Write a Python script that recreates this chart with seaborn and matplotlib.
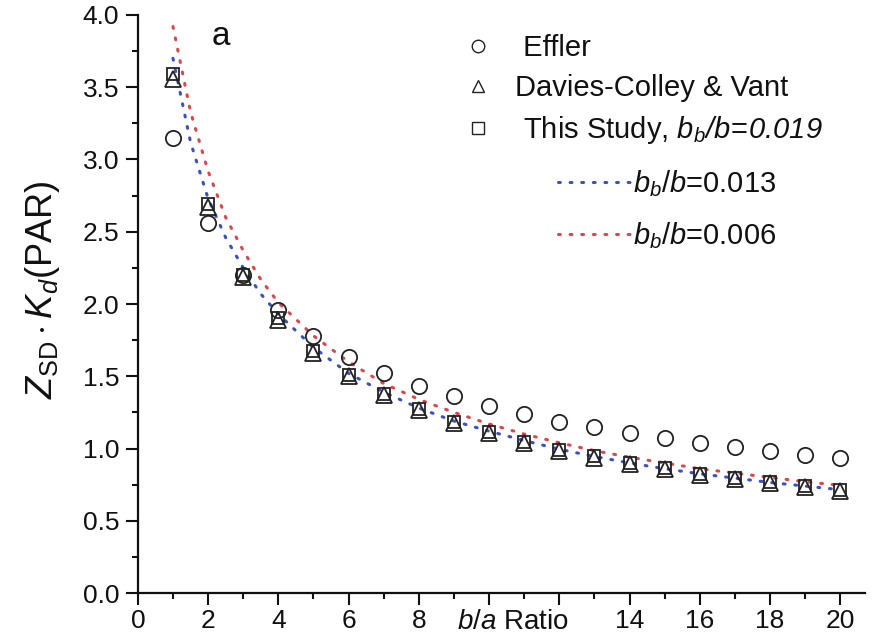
import matplotlib
matplotlib.use("Agg")
import matplotlib.pyplot as plt
from matplotlib.lines import Line2D
import seaborn as sns
import pandas as pd
import numpy as np

# ---------------- data ----------------
ratio = [1, 2, 3, 4, 5, 6, 7, 8, 9, 10, 11, 12, 13, 14, 15, 16, 17, 18, 19, 20]
effler = [3.15, 2.56, 2.20, 1.96, 1.78, 1.635, 1.525, 1.43, 1.36, 1.295,
          1.24, 1.185, 1.15, 1.105, 1.07, 1.04, 1.01, 0.985, 0.955, 0.935]
davies = [3.56, 2.67, 2.19, 1.89, 1.66, 1.50, 1.37, 1.265, 1.175, 1.105,
          1.035, 0.983, 0.937, 0.893, 0.856, 0.817, 0.789, 0.759, 0.736, 0.708]
study = [3.59, 2.69, 2.20, 1.90, 1.675, 1.51, 1.38, 1.275, 1.185, 1.115,
         1.045, 0.99, 0.945, 0.90, 0.863, 0.825, 0.795, 0.766, 0.742, 0.715]

curve_x = [1, 1.5, 2, 2.5, 3, 3.5, 4, 5, 6, 7, 8, 9, 10, 11, 12, 13, 14, 15, 16, 17, 18, 19, 20]
curve_013 = [3.70, 3.12, 2.73, 2.46, 2.25, 2.07, 1.93, 1.70, 1.52, 1.39, 1.28, 1.19, 1.12,
             1.055, 0.995, 0.945, 0.90, 0.86, 0.825, 0.795, 0.765, 0.74, 0.715]
curve_006 = [3.92, 3.33, 2.92, 2.60, 2.37, 2.17, 2.01, 1.78, 1.60, 1.45, 1.34, 1.25, 1.17,
             1.10, 1.04, 0.985, 0.94, 0.90, 0.86, 0.83, 0.80, 0.77, 0.745]

x_ticks = [0, 2, 4, 6, 8, 10, 12, 14, 16, 18, 20]
x_tick_labels = ["0", "2", "4", "6", "8", "", "", "14", "16", "18", "20"]
y_ticks = [0.0, 0.5, 1.0, 1.5, 2.0, 2.5, 3.0, 3.5, 4.0]

# ---------------- style ----------------
sns.set_theme(style="ticks")
plt.rcParams["font.family"] = ["Liberation Sans", "DejaVu Sans"]
plt.rcParams["mathtext.fontset"] = "custom"
plt.rcParams["mathtext.rm"] = "Liberation Sans"
plt.rcParams["mathtext.it"] = "Liberation Sans:italic"
plt.rcParams["mathtext.sf"] = "Liberation Sans:italic"
plt.rcParams["mathtext.bf"] = "Liberation Sans:bold"

INK = "#111111"
fig = plt.figure(figsize=(8.78, 6.38), dpi=100)
ax = fig.add_axes([0.157, 0.0705, 0.828, 0.906])

blue = "#3a50c4"
red = "#e0454a"
DASH = (0.6, 3.2)
LW = 2.2

df_c = pd.DataFrame({"x": curve_x, "c013": curve_013, "c006": curve_006})
sns.lineplot(data=df_c, x="x", y="c013", ax=ax, color=blue, lw=LW)
sns.lineplot(data=df_c, x="x", y="c006", ax=ax, color=red, lw=LW)
for line in ax.lines:
    line.set_dashes(DASH)
    line.set_dash_capstyle("round")

df_p = pd.DataFrame({"x": ratio, "effler": effler, "davies": davies, "study": study})
ms = 11
ax.plot(df_p["x"], df_p["effler"], "o", mfc="none", mec="#222222", ms=ms, mew=1.3, ls="none")
ax.plot(df_p["x"], df_p["study"], "s", mfc="none", mec="#222222", ms=ms * 0.85, mew=1.3, ls="none")
ax.plot(df_p["x"], df_p["davies"], "^", mfc="none", mec="#222222", ms=ms, mew=1.3, ls="none")

ax.set_xlim(0, 20.7)
ax.set_ylim(0, 4.0)
ax.set_xticks(x_ticks)
ax.set_xticklabels(x_tick_labels)
ax.set_xticks(np.arange(1, 21, 2), minor=True)
ax.set_yticks(y_ticks)
ax.set_yticklabels([f"{v:.1f}" for v in y_ticks])
ax.set_yticks(np.arange(0.25, 4.0, 0.5), minor=True)

for side in ["top", "right"]:
    ax.spines[side].set_visible(False)
for side in ["left", "bottom"]:
    ax.spines[side].set_linewidth(1.6)
    ax.spines[side].set_color(INK)

ax.tick_params(which="major", length=8.5, width=1.5, color=INK,
               labelsize=19, labelcolor=INK)
ax.tick_params(axis="y", which="major", pad=5)
ax.tick_params(axis="x", which="major", pad=3)
ax.tick_params(which="minor", length=4.5, width=1.5, color=INK)
ax.set_xlabel("")
ax.set_ylabel(r"$Z_{\mathrm{SD}}\cdot K_d$(PAR)", fontsize=26, color=INK)
ax.yaxis.set_label_coords(-0.105, 0.524)

# x-axis title placed in the tick-label row
ax.annotate(r"$b/a$ Ratio", xy=(10.67, 0), xycoords=("data", "axes fraction"),
            xytext=(0, -(8.5 + 3)), textcoords="offset points",
            ha="center", va="top", fontsize=20, color=INK)

ax.text(2.1, 3.85, "a", fontsize=24, ha="left", va="center", color=INK)

# legends
h1 = [Line2D([], [], marker="o", ls="none", mfc="none", mec="#222222", ms=9, mew=1.0),
      Line2D([], [], marker="^", ls="none", mfc="none", mec="#222222", ms=9, mew=1.0),
      Line2D([], [], marker="s", ls="none", mfc="none", mec="#222222", ms=8, mew=1.0)]
l1 = [" Effler", "Davies-Colley & Vant",
      r" This Study, $\mathsf{b_b/b}\!=\!\mathsf{0.019}$"]
leg1 = ax.legend(h1, l1, loc="upper left", bbox_to_anchor=(0.528, 0.946),
                 bbox_transform=fig.transFigure, frameon=False, fontsize=21,
                 handlelength=1.0, handletextpad=0.75, labelspacing=0.4,
                 borderpad=0, borderaxespad=0)
for t in leg1.get_texts():
    t.set_color(INK)
ax.add_artist(leg1)

h2 = [Line2D([], [], color=blue, lw=LW, dashes=DASH, dash_capstyle="round"),
      Line2D([], [], color=red, lw=LW, dashes=DASH, dash_capstyle="round")]
l2 = ["$b_b/b$=0.013", "$b_b/b$=0.006"]
leg2 = ax.legend(h2, l2, loc="upper left", bbox_to_anchor=(0.635, 0.737),
                 bbox_transform=fig.transFigure, frameon=False, fontsize=21,
                 handlelength=2.5, handletextpad=0.1, labelspacing=0.75,
                 borderpad=0, borderaxespad=0)
for t in leg2.get_texts():
    t.set_color(INK)

fig.savefig("out.png", dpi=100)
